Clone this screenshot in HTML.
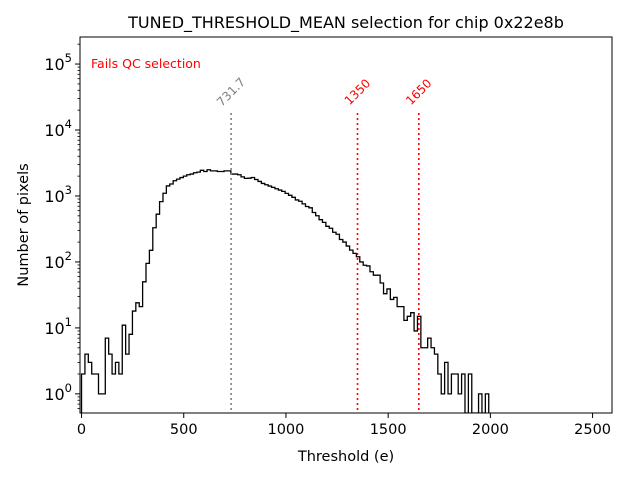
<!DOCTYPE html>
<html><head><meta charset="utf-8"><style>
body{margin:0;background:#fff}
svg{display:block;font-family:"DejaVu Sans","Liberation Sans",sans-serif}
</style></head><body>
<svg id="c" width="640" height="480" viewBox="0 0 640 480">
<rect width="640" height="480" fill="#fff"/>
<text x="346" y="28" font-size="16" text-anchor="middle">TUNED_THRESHOLD_MEAN selection for chip 0x22e8b</text>
<text x="346" y="461" font-size="14.5" text-anchor="middle">Threshold (e)</text>
<text transform="translate(28,225) rotate(-90)" font-size="14.5" text-anchor="middle">Number of pixels</text>
<text x="91" y="68" font-size="12.5" fill="red">Fails QC selection</text>
<g id="plot"></g>
</svg>
<script>
const binWidth = 16.6;
const counts = [2,4,3,2,2,1,1,7,4,2,3,2,11,4,8,18,24,21,50,95,150,330,530,820,1100,1420,1520,1700,1800,1900,2000,2100,2150,2250,2300,2450,2350,2500,2400,2400,2350,2350,2400,2400,2150,2150,2100,1950,1850,
1862,1905,1778,1660,1549,1479,1413,1349,1288,1230,1175,1096,1023,955,871,832,759,692,661,562,501,437,398,347,324,282,263,219,200,174,151,135,120,
100,89,87,71,63,63,48,33,39,27,29,21,21,13,15,17,9,15,
5,5,7,5,4,2,1,3,1,2,2,1,2,0,2,0,0,1,0,1];
const xTicks = [0,500,1000,1500,2000,2500];
const yTickExps = [0,1,2,3,4,5];
const vLines = [731.7,1350,1650];
const vLabels = ["731.7","1350","1650"];
const vColors = ["gray","red","red"];

const L=80,R=612,T=37,B=413;
const X0=-7.5,X1=2595,Y0=-0.29,Y1=5.41;
const sx=v=>L+(v-X0)/(X1-X0)*(R-L);
const sy=v=>B-(Math.log10(v)-Y0)/(Y1-Y0)*(B-T);
const NS="http://www.w3.org/2000/svg";
const g=document.getElementById('plot');
function mk(t,a,p){const e=document.createElementNS(NS,t);for(const k in a)e.setAttribute(k,a[k]);(p||g).appendChild(e);return e;}

let d="M"+sx(0)+","+B;
counts.forEach((c,i)=>{
  const y=c>0?Math.min(B,sy(c)):B;
  d+=" L"+sx(i*binWidth)+","+y+" L"+sx((i+1)*binWidth)+","+y;
});
d+=" L"+sx(counts.length*binWidth)+","+B;
const cp=mk('clipPath',{id:'cl'});mk('rect',{x:L,y:T,width:R-L,height:B-T},cp);
const hp=mk('path',{d:d,fill:'none',stroke:'#000','stroke-width':1.3,'clip-path':'url(#cl)'});



vLines.forEach((v,i)=>{
  const x=sx(v);
  const ln=mk('line',{x1:x,x2:x,y1:113,y2:B,stroke:vColors[i],'stroke-width':1.6,'stroke-dasharray':'2,3'});
  
  
  const t=mk('text',{x:x,y:96,'font-size':12,fill:vColors[i],'text-anchor':'middle',transform:'rotate(-45 '+x+' 92)'});
  t.textContent=vLabels[i];
  
  
});

const fr=mk('rect',{x:L,y:T,width:R-L,height:B-T,fill:'none',stroke:'#000','stroke-width':1});



xTicks.forEach(v=>{
  const x=sx(v);
  mk('line',{x1:x,x2:x,y1:B,y2:B+5,stroke:'#000'});
  const t=mk('text',{x:x,y:B+21,'font-size':14.5,'text-anchor':'middle'});
  t.textContent=v;
  
  
});
for(let e=-1;e<=5;e++){
  for(let m=2;m<=9;m++){
    const v=m*Math.pow(10,e);const y=sy(v);
    if(y<T||y>B)continue;
    mk('line',{x1:L-2.5,x2:L,y1:y,y2:y,stroke:'#000','stroke-width':0.8});
  }
}
yTickExps.forEach(e=>{
  const y=sy(Math.pow(10,e));
  mk('line',{x1:L-5,x2:L,y1:y,y2:y,stroke:'#000'});
  const t=mk('text',{x:L-8,y:y+6,'font-size':16,'text-anchor':'end'});
  
  
  t.appendChild(document.createTextNode('10'));
  const s=mk('tspan',{dy:-8,'font-size':11.5},t);s.textContent=e;
});
</script>
</body></html>
